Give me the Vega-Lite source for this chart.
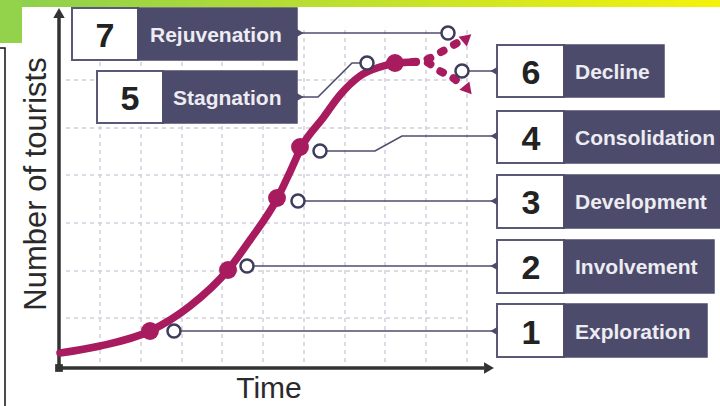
{
  "$schema": "https://vega.github.io/schema/vega-lite/v6.json",
  "width": 720,
  "height": 406,
  "padding": 0,
  "autosize": {"type": "none"},
  "background": "white",
  "config": {"view": {"stroke": null}},
  "datasets": {
    "bar": [{"x": 0, "x2": 720, "y": 0, "y2": 7}],
    "green": [{"x": 0, "x2": 22, "y": 0, "y2": 43}],
    "frame": [{"seq": 1, "x": 0, "y": 48}, {"seq": 2, "x": 5, "y": 48}, {"seq": 3, "x": 5, "y": 406}],
    "hgrid": [{"y": 80, "x": 66, "x2": 467}, {"y": 128, "x": 66, "x2": 467}, {"y": 175, "x": 66, "x2": 467}, {"y": 223, "x": 66, "x2": 467}, {"y": 271, "x": 66, "x2": 467}, {"y": 318, "x": 66, "x2": 467}],
    "vgrid": [{"x": 100, "y": 30, "y2": 366}, {"x": 141, "y": 30, "y2": 366}, {"x": 182, "y": 30, "y2": 366}, {"x": 222, "y": 30, "y2": 366}, {"x": 263, "y": 30, "y2": 366}, {"x": 304, "y": 30, "y2": 366}, {"x": 345, "y": 30, "y2": 366}, {"x": 385, "y": 30, "y2": 366}, {"x": 426, "y": 30, "y2": 366}, {"x": 467, "y": 30, "y2": 366}],
    "axes": [{"x": 59, "y": 369, "x2": 59, "y2": 18}, {"x": 56, "y": 368, "x2": 484, "y2": 368}],
    "origin": [{"x": 59, "y": 368}],
    "yarrow": [{"x": 59, "y": 13}],
    "xarrow": [{"x": 489, "y": 368}],
    "connectors": [
      {"id": 1, "seq": 1, "x": 174, "y": 331}, {"id": 1, "seq": 2, "x": 497, "y": 331},
      {"id": 2, "seq": 1, "x": 247, "y": 266}, {"id": 2, "seq": 2, "x": 497, "y": 266},
      {"id": 3, "seq": 1, "x": 298, "y": 201}, {"id": 3, "seq": 2, "x": 497, "y": 201},
      {"id": 4, "seq": 1, "x": 320, "y": 151}, {"id": 4, "seq": 2, "x": 375, "y": 151}, {"id": 4, "seq": 3, "x": 402, "y": 136}, {"id": 4, "seq": 4, "x": 497, "y": 136},
      {"id": 6, "seq": 1, "x": 462, "y": 71}, {"id": 6, "seq": 2, "x": 497, "y": 71},
      {"id": 7, "seq": 1, "x": 297, "y": 33}, {"id": 7, "seq": 2, "x": 448, "y": 33},
      {"id": 5, "seq": 1, "x": 297, "y": 97}, {"id": 5, "seq": 2, "x": 318, "y": 97}, {"id": 5, "seq": 3, "x": 352, "y": 63}, {"id": 5, "seq": 4, "x": 367, "y": 63}
    ],
    "leftPointers": [{"x": 494, "y": 71}, {"x": 494, "y": 136}, {"x": 494, "y": 201}, {"x": 494, "y": 266}, {"x": 494, "y": 331}],
    "rightPointers": [{"x": 300, "y": 33}, {"x": 300, "y": 97}],
    "boxes": [
      {"num": "7", "label": "Rejuvenation", "x": 72, "xw": 138, "x2": 297, "y": 8, "y2": 60, "cy": 34, "nx": 105, "lx": 150},
      {"num": "5", "label": "Stagnation", "x": 97, "xw": 163, "x2": 297, "y": 71, "y2": 123, "cy": 97, "nx": 130, "lx": 173},
      {"num": "6", "label": "Decline", "x": 497, "xw": 564, "x2": 664, "y": 45, "y2": 97, "cy": 71, "nx": 531, "lx": 575},
      {"num": "4", "label": "Consolidation", "x": 497, "xw": 564, "x2": 724, "y": 111, "y2": 163, "cy": 137, "nx": 531, "lx": 575},
      {"num": "3", "label": "Development", "x": 497, "xw": 564, "x2": 724, "y": 175, "y2": 228, "cy": 201, "nx": 531, "lx": 575},
      {"num": "2", "label": "Involvement", "x": 497, "xw": 564, "x2": 714, "y": 240, "y2": 293, "cy": 266, "nx": 531, "lx": 575},
      {"num": "1", "label": "Exploration", "x": 497, "xw": 564, "x2": 707, "y": 304, "y2": 357, "cy": 331, "nx": 531, "lx": 575}
    ],
    "curve": [
      {"x": 60, "y": 353}, {"x": 100, "y": 346}, {"x": 150, "y": 331}, {"x": 190, "y": 306}, {"x": 228, "y": 270}, {"x": 250, "y": 240}, {"x": 277, "y": 199}, {"x": 290, "y": 172}, {"x": 302, "y": 146}, {"x": 323, "y": 118}, {"x": 340, "y": 95}, {"x": 360, "y": 76}, {"x": 380, "y": 67}, {"x": 397, "y": 63}, {"x": 413, "y": 62}
    ],
    "dotUp": [{"x": 413, "y": 62}, {"x": 425, "y": 60}, {"x": 443, "y": 51}, {"x": 462, "y": 40}],
    "dotDown": [{"x": 413, "y": 62}, {"x": 425, "y": 62}, {"x": 438, "y": 70}, {"x": 453, "y": 78}, {"x": 462, "y": 85}],
    "arrowUp": [{"x": 467, "y": 38}],
    "arrowDown": [{"x": 468, "y": 90}],
    "stageDots": [{"x": 150, "y": 331}, {"x": 228, "y": 270}, {"x": 277, "y": 198}, {"x": 300, "y": 147}, {"x": 395, "y": 63}],
    "hollow": [{"x": 174, "y": 331}, {"x": 247, "y": 266}, {"x": 298, "y": 201}, {"x": 320, "y": 151}, {"x": 367, "y": 63}, {"x": 448, "y": 33}, {"x": 462, "y": 71}],
    "ytitle": [{"x": 37, "y": 184, "t": "Number of tourists"}],
    "xtitle": [{"x": 269, "y": 389, "t": "Time"}]
  },
  "encoding": {
    "x": {"field": "x", "type": "quantitative", "scale": {"domain": [0, 720], "nice": false, "zero": false}, "axis": null},
    "y": {"field": "y", "type": "quantitative", "scale": {"domain": [0, 406], "reverse": true, "nice": false, "zero": false}, "axis": null}
  },
  "layer": [
    {"data": {"name": "bar"}, "mark": {"type": "rect", "clip": false, "color": {"gradient": "linear", "x1": 0, "y1": 0, "x2": 1, "y2": 0, "stops": [{"offset": 0, "color": "#8bcf4f"}, {"offset": 1, "color": "#f4f20a"}]}},
     "encoding": {"x2": {"field": "x2"}, "y2": {"field": "y2"}}},
    {"data": {"name": "green"}, "mark": {"type": "rect", "color": "#93d24b"},
     "encoding": {"x2": {"field": "x2"}, "y2": {"field": "y2"}}},
    {"data": {"name": "frame"}, "mark": {"type": "line", "color": "#111111", "strokeWidth": 1.5},
     "encoding": {"order": {"field": "seq"}}},
    {"data": {"name": "hgrid"}, "mark": {"type": "rule", "color": "#d0d0de", "strokeWidth": 1.5, "strokeDash": [4, 4]},
     "encoding": {"x2": {"field": "x2"}}},
    {"data": {"name": "vgrid"}, "mark": {"type": "rule", "color": "#d0d0de", "strokeWidth": 1.5, "strokeDash": [4, 4]},
     "encoding": {"y2": {"field": "y2"}}},
    {"data": {"name": "axes"}, "mark": {"type": "rule", "color": "#333333", "strokeWidth": 3.5},
     "encoding": {"x2": {"field": "x2"}, "y2": {"field": "y2"}}},
    {"data": {"name": "origin"}, "mark": {"type": "point", "shape": "square", "filled": true, "color": "#333333", "size": 60, "opacity": 1}},
    {"data": {"name": "yarrow"}, "mark": {"type": "point", "shape": "triangle-up", "filled": true, "color": "#333333", "size": 130, "opacity": 1}},
    {"data": {"name": "xarrow"}, "mark": {"type": "point", "shape": "triangle-right", "filled": true, "color": "#333333", "size": 130, "opacity": 1}},
    {"data": {"name": "connectors"}, "mark": {"type": "line", "color": "#4f4d6d", "strokeWidth": 1.6},
     "encoding": {"detail": {"field": "id"}, "order": {"field": "seq"}}},
    {"data": {"name": "boxes"}, "mark": {"type": "rect", "fill": "white", "stroke": "#5a5877", "strokeWidth": 2},
     "encoding": {"x2": {"field": "xw"}, "y2": {"field": "y2"}}},
    {"data": {"name": "boxes"}, "mark": {"type": "rect", "fill": "#4d4b6b", "stroke": "#4d4b6b", "strokeWidth": 1.5},
     "encoding": {"x": {"field": "xw", "type": "quantitative"}, "x2": {"field": "x2"}, "y2": {"field": "y2"}}},
    {"data": {"name": "leftPointers"}, "mark": {"type": "point", "shape": "triangle-left", "filled": true, "color": "#4d4b6b", "size": 70, "opacity": 1}},
    {"data": {"name": "rightPointers"}, "mark": {"type": "point", "shape": "triangle-right", "filled": true, "color": "#4d4b6b", "size": 70, "opacity": 1}},
    {"data": {"name": "curve"}, "mark": {"type": "line", "color": "#a81c5f", "strokeWidth": 7.5, "strokeCap": "round", "interpolate": "monotone"}},
    {"data": {"name": "dotUp"}, "mark": {"type": "line", "color": "#a81c5f", "strokeWidth": 8, "strokeCap": "round", "strokeDash": [3, 12], "interpolate": "monotone"}},
    {"data": {"name": "dotDown"}, "mark": {"type": "line", "color": "#a81c5f", "strokeWidth": 8, "strokeCap": "round", "strokeDash": [3, 12], "interpolate": "monotone"}},
    {"data": {"name": "arrowUp"}, "mark": {"type": "point", "shape": "triangle-up", "angle": 50, "filled": true, "color": "#a81c5f", "size": 170, "opacity": 1}},
    {"data": {"name": "arrowDown"}, "mark": {"type": "point", "shape": "triangle-up", "angle": 140, "filled": true, "color": "#a81c5f", "size": 170, "opacity": 1}},
    {"data": {"name": "stageDots"}, "mark": {"type": "point", "shape": "circle", "filled": true, "color": "#a81c5f", "size": 320, "opacity": 1}},
    {"data": {"name": "hollow"}, "mark": {"type": "point", "shape": "circle", "filled": false, "fill": "white", "fillOpacity": 1, "stroke": "#3f3d5c", "strokeWidth": 2.5, "size": 170, "opacity": 1}},
    {"data": {"name": "boxes"}, "mark": {"type": "text", "font": "Liberation Sans", "fontSize": 34, "fontWeight": "bold", "color": "#222222", "align": "center", "baseline": "alphabetic", "dy": 13},
     "encoding": {"x": {"field": "nx", "type": "quantitative"}, "y": {"field": "cy", "type": "quantitative"}, "text": {"field": "num"}}},
    {"data": {"name": "boxes"}, "mark": {"type": "text", "font": "Liberation Sans", "fontSize": 21, "fontWeight": "bold", "color": "#ececf2", "align": "left", "baseline": "alphabetic", "dy": 7.5},
     "encoding": {"x": {"field": "lx", "type": "quantitative"}, "y": {"field": "cy", "type": "quantitative"}, "text": {"field": "label"}}},
    {"data": {"name": "ytitle"}, "mark": {"type": "text", "font": "Liberation Sans", "fontSize": 31, "color": "#2a2a2a", "align": "center", "baseline": "middle", "angle": 270},
     "encoding": {"text": {"field": "t"}}},
    {"data": {"name": "xtitle"}, "mark": {"type": "text", "font": "Liberation Sans", "fontSize": 30, "color": "#2a2a2a", "align": "center", "baseline": "middle"},
     "encoding": {"text": {"field": "t"}}}
  ]
}
